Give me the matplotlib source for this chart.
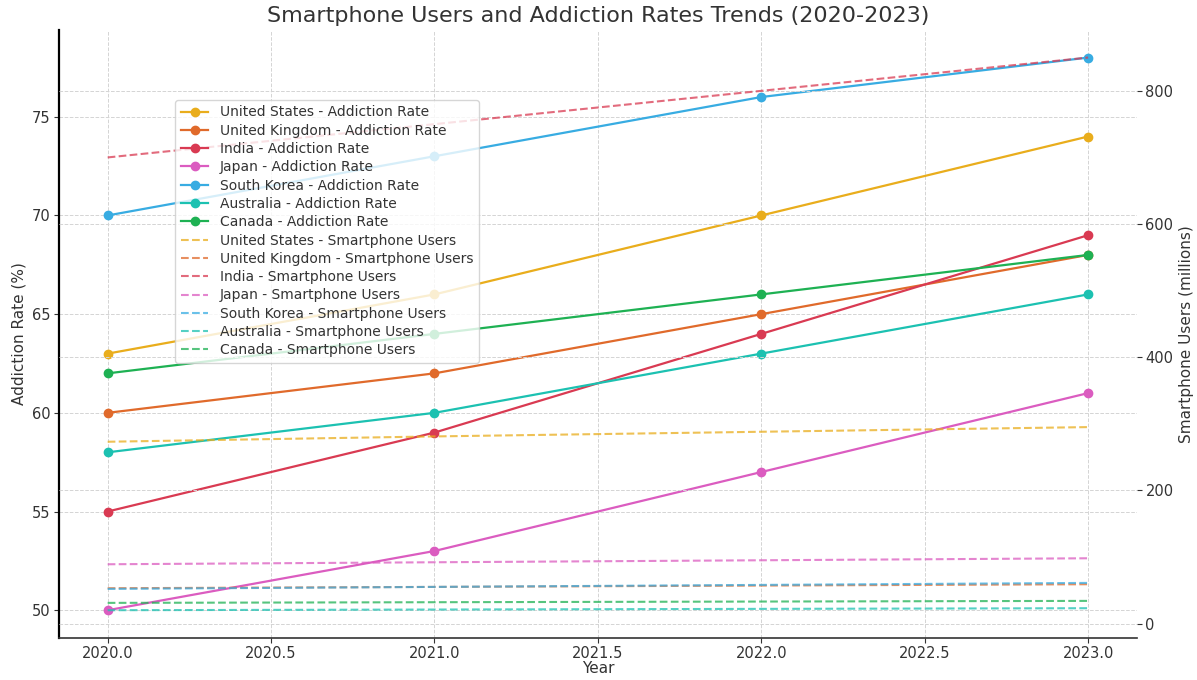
import matplotlib
matplotlib.use("Agg")
import matplotlib.pyplot as plt

years = [2020, 2021, 2022, 2023]
countries = ["United States", "United Kingdom", "India", "Japan",
             "South Korea", "Australia", "Canada"]

addiction_us = [63, 66, 70, 74]
addiction_uk = [60, 62, 65, 68]
addiction_in = [55, 59, 64, 69]
addiction_jp = [50, 53, 57, 61]
addiction_kr = [70, 73, 76, 78]
addiction_au = [58, 60, 63, 66]
addiction_ca = [62, 64, 66, 68]

users_us = [273, 281, 288, 295]
users_uk = [53, 55, 57, 59]
users_in = [700, 750, 800, 850]
users_jp = [89, 92, 95, 98]
users_kr = [52, 55, 58, 61]
users_au = [20, 21, 22, 23]
users_ca = [31, 32, 33, 34]

addiction = [addiction_us, addiction_uk, addiction_in, addiction_jp,
             addiction_kr, addiction_au, addiction_ca]
users = [users_us, users_uk, users_in, users_jp, users_kr, users_au, users_ca]
colors = ["#E9AD1C", "#E06A2B", "#D93A52", "#DB5CC0", "#38ACE2", "#1CC1B1", "#1EB153"]

plt.rcParams['font.family'] = ['DejaVu Sans']
text_color = "#333333"

fig, ax1 = plt.subplots(figsize=(11.97, 6.8), dpi=100)
fig.subplots_adjust(left=0.049, right=0.95, top=0.956, bottom=0.062)

for c, vals, col in zip(countries, addiction, colors):
    ax1.plot(years, vals, marker='o', color=col, linewidth=1.6, markersize=6,
             label=f"{c} - Addiction Rate")

ax2 = ax1.twinx()
for c, vals, col in zip(countries, users, colors):
    ax2.plot(years, vals, linestyle='--', color=col, linewidth=1.5, alpha=0.75,
             label=f"{c} - Smartphone Users")

ax1.set_yticks([50, 55, 60, 65, 70, 75])
ax2.set_yticks([0, 200, 400, 600, 800])

for ax in (ax1, ax2):
    ax.grid(True, linestyle='--', color='#d4d4d4', linewidth=0.7)
    ax.tick_params(colors=text_color, labelsize=10.5, length=3.5, width=0.8, pad=2.5)
    ax.spines['top'].set_visible(False)
    ax.spines['right'].set_visible(False)
ax2.spines['left'].set_visible(False)
ax2.spines['bottom'].set_visible(False)
ax1.spines['left'].set_color('black')
ax1.spines['left'].set_linewidth(1.6)
ax1.spines['bottom'].set_color('#333333')
ax1.spines['bottom'].set_linewidth(1.2)

ax1.set_xlabel("Year", color=text_color, fontsize=11, labelpad=0)
ax1.set_ylabel("Addiction Rate (%)", color=text_color, fontsize=11)
ax2.set_ylabel("Smartphone Users (millions)", color=text_color, fontsize=11)
ax1.set_title("Smartphone Users and Addiction Rates Trends (2020-2023)",
              color=text_color, fontsize=16, pad=6)

h1, l1 = ax1.get_legend_handles_labels()
h2, l2 = ax2.get_legend_handles_labels()
leg = ax2.legend(h1 + h2, l1 + l2, loc='upper left', bbox_to_anchor=(0.108, 0.885),
                 borderaxespad=0, fontsize=10, frameon=True, labelcolor=text_color,
                 labelspacing=0.31)
leg.set_zorder(10)

fig.savefig("out.png", dpi=100)
